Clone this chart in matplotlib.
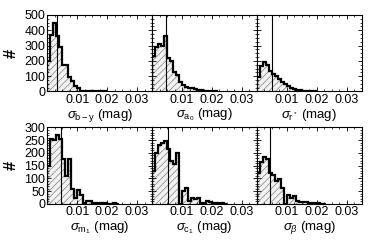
import numpy as np
import matplotlib
matplotlib.use("Agg")
import matplotlib.pyplot as plt
from matplotlib.ticker import MultipleLocator

plt.rcParams["font.family"] = ["Liberation Sans", "DejaVu Sans"]
plt.rcParams["mathtext.fontset"] = "custom"
plt.rcParams["mathtext.rm"] = "Liberation Sans"
plt.rcParams["mathtext.it"] = "Liberation Sans:italic"
plt.rcParams["hatch.linewidth"] = 0.5
plt.rcParams["hatch.color"] = "#808080"

bin_width = 0.001

# counts per 0.001 mag bin, starting at 0
h_by = [200, 370, 450, 360, 290, 175, 170, 95, 70, 35, 20, 5, 3, 2, 1, 1, 0, 0, 0, 0]
h_a0 = [230, 290, 310, 300, 360, 220, 200, 130, 110, 60, 40, 30, 25, 20, 15, 10, 8, 5, 3, 2, 1, 1]
h_rs = [95, 166, 190, 175, 135, 115, 100, 80, 62, 46, 35, 25, 17, 12, 8, 5, 3, 2, 1, 1]
h_m1 = [150, 255, 250, 270, 255, 175, 110, 175, 60, 25, 55, 35, 5, 10, 10, 5, 3, 3, 2, 2, 1, 1, 2, 1]
h_c1 = [130, 200, 230, 238, 245, 215, 170, 155, 200, 0, 50, 62, 10, 25, 20, 22, 5, 5, 12, 8, 5, 3, 2, 2, 1]
h_beta = [120, 165, 183, 176, 120, 113, 88, 98, 62, 0, 35, 22, 30, 10, 7, 7, 6, 5, 3, 2, 2, 1, 1]

medians = [0.0032, 0.0047, 0.0050, 0.0045, 0.0054, 0.0044]
labels = [r"$\sigma_{\rm b-y}$ (mag)", r"$\sigma_{\rm a_0}$ (mag)", r"$\sigma_{\rm r^*}$ (mag)",
          r"$\sigma_{\rm m_1}$ (mag)", r"$\sigma_{\rm c_1}$ (mag)", r"$\sigma_\beta$ (mag)"]
hists = [h_by, h_a0, h_rs, h_m1, h_c1, h_beta]
ymax = [500, 500, 500, 300, 300, 300]

fig, axes = plt.subplots(2, 3, figsize=(3.74, 2.49), dpi=100)
fig.subplots_adjust(left=0.1265, right=0.967, top=0.94, bottom=0.181, wspace=0, hspace=0.47)

for i, ax in enumerate(axes.flat):
    h = np.array(hists[i])
    edges = np.arange(len(h) + 1) * bin_width
    ax.stairs(h, edges, fill=True, facecolor="#f2f2f2", hatch="/////", edgecolor="#808080", linewidth=0)
    ax.stairs(h, edges, color="black", linewidth=1.6)
    ax.axvline(medians[i], color="black", linewidth=0.8)
    ax.set_xlim(0, 0.035)
    ax.set_ylim(0, ymax[i])
    ax.xaxis.set_minor_locator(MultipleLocator(0.0025))
    ax.yaxis.set_major_locator(MultipleLocator(100 if ymax[i] == 500 else 50))
    ax.yaxis.set_minor_locator(MultipleLocator(25 if ymax[i] == 500 else 10))
    ax.tick_params(which="both", direction="in", top=True, right=True, labelsize=9, pad=1.5)
    ax.tick_params(which="major", length=3, width=0.6)
    ax.tick_params(which="minor", length=1.5, width=0.5)
    ax.set_xticks([0.01, 0.02, 0.03])
    ax.set_xticklabels(["0.01", "0.02", "0.03"])
    for s in ax.spines.values():
        s.set_linewidth(0.8)
    ax.set_xlabel(labels[i], fontsize=9.5, labelpad=1)
    if i % 3 == 0:
        ax.set_ylabel("#", fontsize=12, fontweight="bold", labelpad=4)
    else:
        ax.set_yticklabels([])

fig.savefig("out.png", dpi=100)
